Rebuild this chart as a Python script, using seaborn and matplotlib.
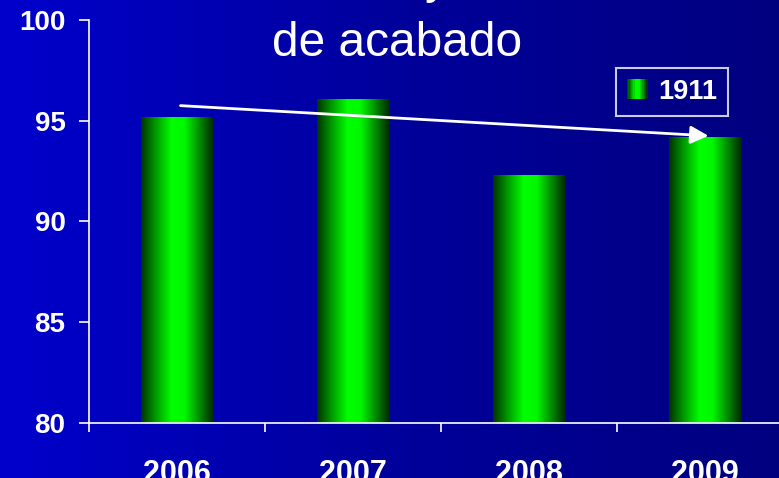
import numpy as np
import pandas as pd
import matplotlib
matplotlib.use("Agg")
import matplotlib.pyplot as plt
import seaborn as sns
from matplotlib.colors import LinearSegmentedColormap
from matplotlib.legend_handler import HandlerBase
from matplotlib.patches import Rectangle

years = ["2006", "2007", "2008", "2009"]
values = [95.2, 96.1, 92.3, 94.2]
series_name = "1911"
yticks = [80, 85, 90, 95, 100]
title_line = "de acabado"

sns.set_theme(style="white")
plt.rcParams['font.family'] = ['Liberation Sans', 'DejaVu Sans']

W, H = 779, 478
fig = plt.figure(figsize=(W / 100, H / 100), dpi=100)

# background gradient
bg = fig.add_axes([0, 0, 1, 1], zorder=-10)
bg_cmap = LinearSegmentedColormap.from_list("bg", [(0, 0, 0.80), (0, 0, 0.61), (0, 0, 0.50)])
bg.imshow(np.linspace(0, 1, 256)[None, :], aspect="auto", cmap=bg_cmap, extent=[0, 1, 0, 1])
bg.set_axis_off()

ax = fig.add_axes([89 / W, (H - 423) / H, 704 / W, 403 / H])
ax.set_facecolor("none")

df = pd.DataFrame({"year": years, "value": values})
sns.barplot(data=df, x="year", y="value", ax=ax, width=0.41, color="#00ff00", saturation=1)

green_cmap = LinearSegmentedColormap.from_list(
    "bar", [(0.0, (0.0, 0.20, 0.0)), (0.2, (0.0, 0.6, 0.0)), (0.42, (0.0, 1.0, 0.0)),
            (0.6, (0.0, 0.97, 0.0)), (0.85, (0.0, 0.45, 0.0)), (1.0, (0.0, 0.15, 0.0))])
grad = np.linspace(0, 1, 256)[None, :]

ax.set_ylim(80, 100)
ax.set_xlim(-0.5, 3.5)
for p in list(ax.patches):
    x0, y0 = p.get_x(), p.get_y()
    w, h = p.get_width(), p.get_height()
    im = ax.imshow(grad, aspect="auto", cmap=green_cmap,
                   extent=[x0, x0 + w, 80, y0 + h], zorder=2)
    im.set_clip_path(p)
    p.set_facecolor("none")
    p.set_edgecolor("none")
ax.set_ylim(80, 100)
ax.set_xlim(-0.5, 3.5)

# trend arrow
ax.annotate("", xy=(3.02, values[3] + 0.05), xytext=(0.02, values[0] + 0.55),
            arrowprops=dict(arrowstyle="-|>,head_length=0.6,head_width=0.3",
                            color="white", lw=2, mutation_scale=18,
                            shrinkA=0, shrinkB=0), zorder=5)

# axes styling
for s in ["top", "right"]:
    ax.spines[s].set_visible(False)
for s in ["left", "bottom"]:
    ax.spines[s].set_color("white")
    ax.spines[s].set_linewidth(1.2)

ax.set_yticks(yticks)
ax.set_yticklabels([str(t) for t in yticks], fontsize=20, fontweight="bold", color="white")
ax.tick_params(axis="y", direction="out", length=7, width=1.2, color="white", pad=10, left=True)
ax.set_xticks(range(len(years)))
ax.set_xticklabels(years, fontsize=22, fontweight="bold", color="white")
ax.tick_params(axis="x", which="major", length=0, pad=26)
ax.set_xticks([-0.5, 0.5, 1.5, 2.5], minor=True)
ax.tick_params(axis="x", which="minor", direction="out", length=6.5, width=1.2, color="white", bottom=True)
ax.set_xlabel("")
ax.set_ylabel("")

# title (first line clipped above the figure)
fig.text(437 / W, 1 + 7 / H, "y", ha="center", va="baseline", fontsize=34.5, color="white")
fig.text(397 / W, 1 - 56 / H, title_line, ha="center", va="baseline", fontsize=34.5, color="white")


class GradHandler(HandlerBase):
    def create_artists(self, legend, orig_handle, xdescent, ydescent, width, height, fontsize, trans):
        n = 16
        arts = []
        for i in range(n):
            c = green_cmap((i + 0.5) / n)
            r = Rectangle((-xdescent + width * i / n, -ydescent), width / n + 0.3, height,
                          facecolor=c, edgecolor="none", transform=trans)
            arts.append(r)
        return arts


handle = Rectangle((0, 0), 1, 1)
leg = ax.legend([handle], [series_name], handler_map={Rectangle: GradHandler()},
                loc="upper right", bbox_to_anchor=(728 / W, 1 - 68 / H),
                bbox_transform=fig.transFigure, frameon=True, fancybox=False,
                prop={"weight": "bold", "size": 19.5}, handlelength=0.75, handleheight=0.75,
                handletextpad=0.4, borderpad=0.4, borderaxespad=0)
leg.get_frame().set_facecolor("none")
leg.get_frame().set_edgecolor("white")
leg.get_frame().set_linewidth(1.5)
for t in leg.get_texts():
    t.set_color("white")

fig.savefig("out.png", dpi=100)
